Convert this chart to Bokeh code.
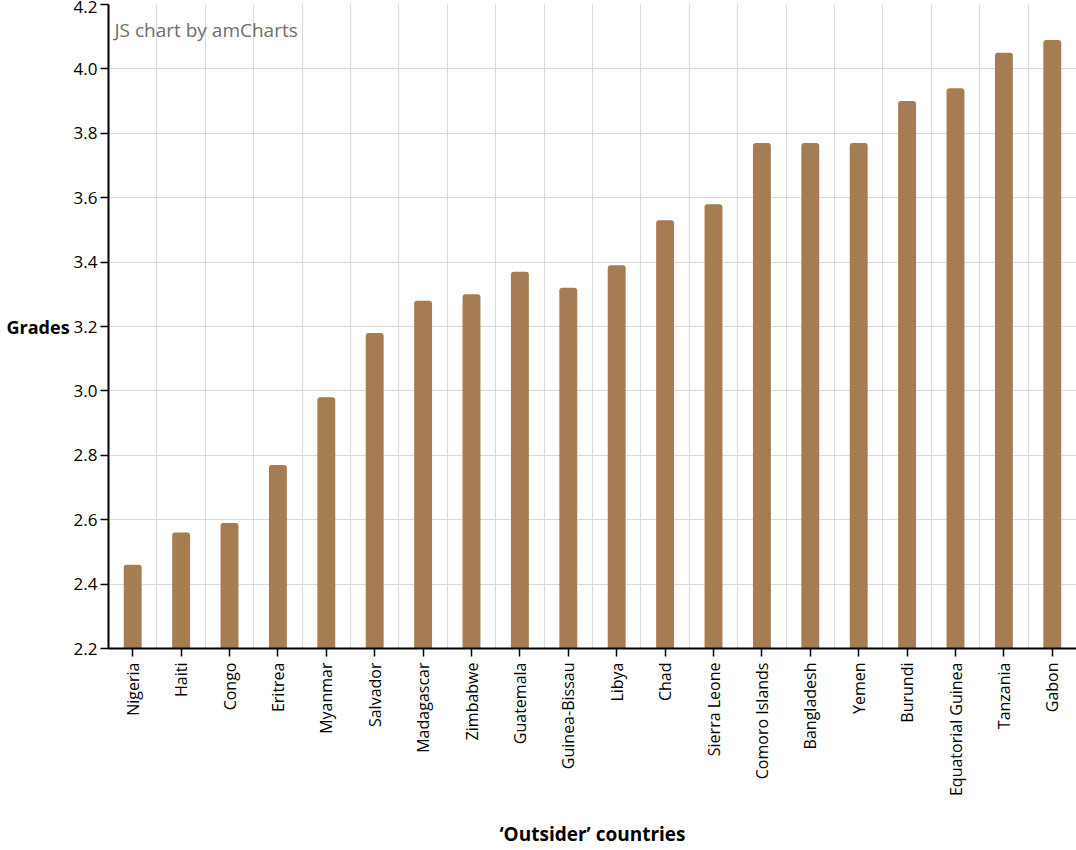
import math
from bokeh.plotting import figure
from bokeh.models import ColumnDataSource, FixedTicker, Range1d, Label, FactorRange, NumeralTickFormatter
from bokeh.embed import file_html
from bokeh.resources import INLINE

countries = ["Nigeria", "Haiti", "Congo", "Eritrea", "Myanmar", "Salvador", "Madagascar",
             "Zimbabwe", "Guatemala", "Guinea-Bissau", "Libya", "Chad", "Sierra Leone",
             "Comoro Islands", "Bangladesh", "Yemen", "Burundi", "Equatorial Guinea",
             "Tanzania", "Gabon"]
grades = [2.46, 2.56, 2.59, 2.77, 2.98, 3.18, 3.28, 3.30, 3.37, 3.32, 3.39, 3.53, 3.58,
          3.77, 3.77, 3.77, 3.90, 3.94, 4.05, 4.09]
y_ticks = [2.2, 2.4, 2.6, 2.8, 3.0, 3.2, 3.4, 3.6, 3.8, 4.0, 4.2]

FONT = "Open Sans"
BAR = "#a67c52"

source = ColumnDataSource(data=dict(country=countries, grade=grades))

p = figure(x_range=FactorRange(factors=countries, range_padding=0),
           y_range=Range1d(2.2, 4.2),
           width=1076, height=850, output_backend="svg", toolbar_location=None,
           min_border_top=4, min_border_right=0, min_border_left=108, min_border_bottom=199)
p.outline_line_color = None
p.background_fill_color = "white"
p.border_fill_color = "white"

p.vbar(x="country", top="grade", bottom=2.2, width=0.37, source=source,
       fill_color=BAR, line_color=None, border_radius=(3, 3, 0, 0))

# grids
p.ygrid.ticker = FixedTicker(ticks=y_ticks)
p.ygrid.grid_line_color = "#dadada"
p.ygrid.grid_line_width = 1
p.xgrid.ticker = FixedTicker(ticks=list(range(len(countries) + 1)))
p.xgrid.grid_line_color = "#dadada"
p.xgrid.grid_line_width = 1

# y axis
ya = p.yaxis[0]
ya.ticker = FixedTicker(ticks=y_ticks)
ya.formatter = NumeralTickFormatter(format="0.0")
ya.axis_label = "Grades"
ya.axis_label_orientation = "horizontal"
ya.axis_label_standoff = 1
ya.axis_label_text_font = FONT
ya.axis_label_text_font_style = "bold"
ya.axis_label_text_font_size = "18px"
ya.axis_label_text_color = "#000000"
ya.major_label_text_font = FONT
ya.major_label_text_font_size = "17px"
ya.major_label_text_color = "#000000"
ya.major_label_standoff = 3
ya.axis_line_color = "#000000"
ya.axis_line_width = 2
ya.major_tick_line_color = "#000000"
ya.major_tick_line_width = 1.5
ya.major_tick_out = 8
ya.major_tick_in = 0
ya.minor_tick_line_color = None

# x axis
xa = p.xaxis[0]
xa.axis_label = "\u2018Outsider\u2019 countries"
xa.axis_label_text_font = FONT
xa.axis_label_text_font_style = "bold"
xa.axis_label_text_font_size = "19px"
xa.axis_label_text_color = "#000000"
xa.axis_label_standoff = 22
xa.major_label_orientation = math.pi / 2
xa.major_label_text_font = FONT
xa.major_label_text_font_size = "16px"
xa.major_label_text_color = "#000000"
xa.major_label_standoff = 6
xa.axis_line_color = "#000000"
xa.axis_line_width = 2
xa.major_tick_line_color = "#000000"
xa.major_tick_line_width = 1.5
xa.major_tick_out = 8
xa.major_tick_in = 0

wm = Label(x=6, y=606, x_units="screen", y_units="screen", text="JS chart by amCharts",
           text_font=FONT, text_font_size="19px", text_color="#6e6e6e")
p.add_layout(wm)

open("out.html", "w").write(file_html(p, INLINE))
